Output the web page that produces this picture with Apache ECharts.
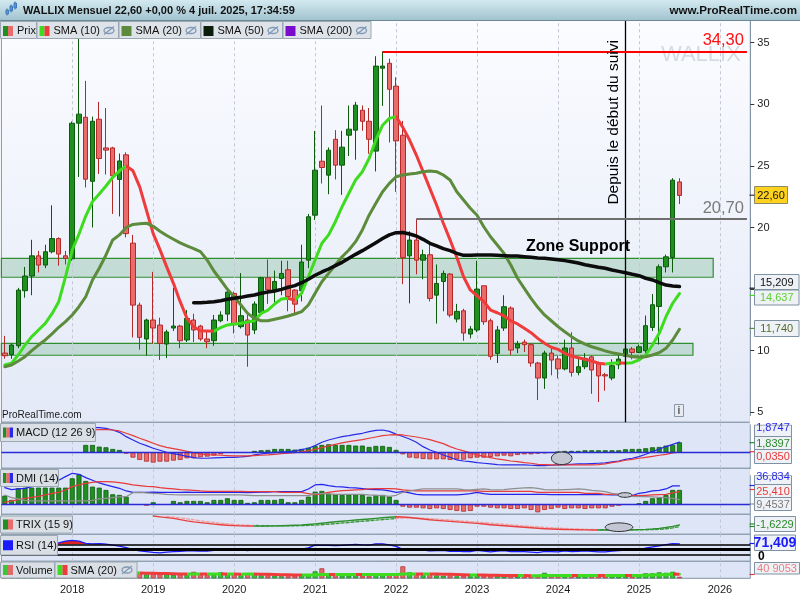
<!DOCTYPE html>
<html>
<head>
<meta charset="utf-8">
<script src="https://cdn.jsdelivr.net/npm/echarts@6/dist/echarts.min.js"></script>
<style>
html,body{margin:0;padding:0;background:#ffffff;}
#chart{width:800px;height:600px;}
</style>
</head>
<body>
<div id="chart"></div>
<script>
// ---- Monthly candles, Mar 2017 .. Jul 2025 ----
const OPEN = [9.81,9.68,10.4,14.87,16.06,17.7,16.95,18.03,19.1,17.7,
  17.46,28.47,28.95,23.75,28.79,26.46,26.46,23.9,25.9,18.73,
  13.7,10.95,12.49,12.08,10.54,11.84,12.0,10.87,12.49,12.0,
  10.95,10.81,12.43,12.97,14.65,11.95,12.49,11.68,13.1,15.92,
  14.95,15.86,16.57,14.92,14.87,17.35,21.0,25.38,24.25,27.16,
  25.06,27.49,27.9,29.52,28.62,26.2,32.93,33.33,31.47,27.49,
  17.7,18.98,17.35,17.79,14.51,15.62,16.22,12.57,13.24,11.35,
  11.68,15.27,12.43,9.78,11.84,13.46,10.22,10.7,10.49,9.0,
  7.78,9.81,9.33,8.52,10.22,8.24,8.7,9.5,8.97,8.05,
  7.78,8.86,9.54,10.14,9.86,10.0,11.89,13.59,16.81,17.57,
  23.7];
const CLOSE = [9.59,10.46,14.92,16.06,17.7,16.95,18.03,19.1,17.84,17.49,
  28.46,29.2,23.92,28.62,25.6,26.28,24.2,25.4,19.5,13.7,
  11.08,12.49,11.84,10.59,11.52,12.0,10.81,12.62,11.68,10.95,
  10.73,12.49,12.89,14.76,12.11,12.84,11.27,13.79,15.92,14.95,
  15.62,16.27,14.4,13.78,17.2,20.87,24.65,24.87,26.27,25.06,
  26.52,27.98,29.93,28.62,27.16,33.1,33.1,31.22,27.03,17.57,
  18.98,17.35,17.79,14.24,15.46,16.27,12.89,13.19,11.43,11.76,
  15.0,12.35,9.54,11.68,13.57,10.05,10.54,10.49,9.0,7.78,
  9.81,9.24,8.52,10.22,8.24,8.7,9.38,8.43,7.95,7.95,
  8.78,9.32,10.14,9.86,10.32,12.03,13.73,16.81,17.62,23.84,
  22.6];
const LOW = [9.35,9.35,10.2,14.3,14.5,16.35,16.7,17.9,16.9,17.0,
  17.3,24.1,23.25,20.0,24.35,24.3,21.1,20.9,19.2,11.08,
  10.08,9.6,10.57,9.25,9.4,11.6,10.2,10.7,10.7,10.8,
  10.2,10.4,12.3,12.4,11.4,11.8,8.7,11.35,12.9,13.8,
  13.9,14.5,13.2,12.9,14.0,16.7,20.6,23.57,22.7,23.9,
  22.65,25.8,25.5,27.85,25.98,24.55,29.87,26.9,22.9,15.4,
  13.84,16.2,15.8,14.0,12.2,13.2,12.7,12.3,10.8,11.0,
  11.5,12.1,9.27,9.0,11.6,9.65,9.8,9.9,8.7,6.0,
  6.9,8.0,7.75,8.4,7.9,8.0,8.5,6.5,5.83,6.75,
  7.6,8.5,9.3,9.3,9.8,9.8,11.6,10.5,16.35,16.35,
  21.9];
const HIGH = [11.2,10.6,15.1,16.8,19.0,18.1,18.6,21.8,19.2,18.1,
  28.6,35.3,31.9,29.0,30.2,29.7,26.55,26.0,26.1,19.4,
  13.9,12.6,16.4,12.68,11.7,15.1,12.1,13.3,13.0,12.1,
  11.6,12.9,13.2,14.9,14.8,16.3,12.9,14.0,16.0,17.4,
  16.5,17.3,17.3,15.0,18.6,21.1,27.84,29.9,26.5,27.9,
  27.84,29.9,30.2,29.9,29.7,33.9,34.3,33.7,32.2,28.65,
  19.7,20.7,18.2,18.65,17.0,16.5,16.3,13.8,13.4,12.0,
  17.3,15.27,12.6,12.0,14.5,13.6,10.8,10.9,10.6,9.1,
  10.0,10.3,9.6,10.9,11.5,9.5,9.8,9.6,9.1,8.2,
  9.3,9.8,10.3,10.3,10.5,12.85,14.6,17.0,17.8,24.0,
  24.0];

// ---- Moving averages ----
const SMA10 = [8.84,8.98,9.65,10.46,11.14,11.68,12.22,13.0,13.98,16.0,
  18.17,19.47,20.93,22.1,22.72,23.37,24.07,24.6,25.0,24.6,
  23.3,21.4,19.5,18.2,16.8,15.47,13.98,12.63,11.95,11.62,
  11.6,11.58,11.87,12.09,12.17,12.22,12.33,12.43,13.03,13.3,
  13.79,14.2,14.25,14.1,14.66,16.0,17.36,18.72,19.4,20.47,
  21.69,22.78,23.86,24.53,25.6,27.1,28.3,28.86,29.0,28.13,
  27.1,25.88,24.53,23.18,21.83,20.34,19.0,17.58,16.0,14.93,
  14.46,13.98,13.3,13.08,12.82,12.43,12.17,11.82,11.46,11.0,
  10.6,10.28,10.11,9.79,9.57,9.43,9.3,9.16,8.98,8.92,
  8.98,9.03,8.98,9.03,9.25,9.65,10.46,11.41,12.76,13.85,
  14.637];
const SMA20 = [8.7,8.84,9.16,9.51,10.0,10.46,10.87,11.36,11.9,12.36,
  12.9,13.57,14.38,15.74,16.69,17.77,18.99,19.4,20.0,20.25,
  20.3,20.35,20.1,19.7,19.35,19.05,18.75,18.5,18.28,18.04,
  17.36,16.47,15.74,14.98,14.38,13.71,13.03,12.63,12.43,12.43,
  12.55,12.68,12.82,12.98,13.17,13.71,14.66,15.6,16.28,16.96,
  17.63,18.17,18.85,19.8,21.0,21.96,22.9,23.58,24.12,24.26,
  24.34,24.4,24.53,24.59,24.53,24.26,23.86,22.9,22.23,21.56,
  21.0,20.06,19.25,18.58,17.9,16.96,15.88,15.06,14.25,13.52,
  12.9,12.43,11.95,11.54,11.14,10.79,10.54,10.32,10.16,9.98,
  9.84,9.73,9.63,9.51,9.46,9.51,9.65,9.84,10.19,10.87,
  11.74];
const SMA50 = [null,null,null,null,null,null,null,null,null,null,
  null,null,null,null,null,null,null,null,null,null,
  null,null,null,null,null,null,null,null,13.9,13.9,
  13.93,13.98,14.06,14.17,14.25,14.33,14.44,14.52,14.66,14.76,
  14.85,14.98,15.15,15.28,15.52,15.8,16.12,16.39,16.63,16.9,
  17.17,17.5,17.82,18.12,18.44,18.77,19.1,19.4,19.58,19.6,
  19.47,19.31,19.04,18.72,18.5,18.28,18.12,17.9,17.74,17.74,
  17.77,17.77,17.77,17.74,17.71,17.69,17.69,17.63,17.58,17.52,
  17.5,17.44,17.39,17.31,17.22,17.12,16.98,16.87,16.77,16.69,
  16.55,16.44,16.33,16.2,16.09,15.88,15.74,15.52,15.33,15.25,
  15.209];

// ---- MACD (12 26 9) ----
const MACD_HIST = [null,null,null,null,null,null,null,null,null,null,
  null,null,1.35,1.35,1.04,0.92,0.61,0.43,-0.25,-0.98,
  -1.41,-1.72,-1.9,-1.72,-1.72,-1.53,-1.41,-1.1,-1.1,-0.92,
  -0.8,-0.61,-0.37,null,null,null,null,0.25,0.37,0.43,
  0.61,0.61,0.61,0.49,0.61,0.86,1.17,1.35,1.47,1.35,
  1.35,1.35,1.23,1.23,0.98,1.17,1.17,0.98,0.43,-0.37,
  -0.98,-1.1,-1.23,-1.29,-1.29,-1.29,-1.41,-1.29,-1.35,-1.1,
  -0.98,-0.98,-0.86,-0.74,-0.61,-0.74,-0.49,-0.37,-0.37,-0.25,
  -0.18,-0.1,0.1,0.25,0.25,0.25,0.37,0.37,0.37,0.37,
  0.37,0.37,0.55,0.61,0.61,0.74,0.92,0.98,1.23,1.35,
  1.8397];
const MACD_LINE = [2.2,2.4,2.6,2.8,3.0,3.2,3.4,3.5,3.6,3.7,
  4.0,4.4,4.55,4.54,4.54,4.42,4.11,3.68,2.88,2.27,
  1.66,1.23,0.74,0.37,0.0,-0.25,-0.49,-0.74,-0.98,-1.1,
  -1.1,-1.04,-0.98,-0.92,-0.92,-0.86,-0.74,-0.49,-0.31,-0.18,
  -0.06,0.06,0.12,0.25,0.49,0.74,1.23,1.84,2.27,2.58,
  2.88,3.07,3.31,3.5,3.8,4.05,4.11,3.85,3.35,2.9,
  2.45,1.84,1.04,0.43,0.0,-0.49,-0.92,-1.41,-1.6,-1.72,
  -1.9,-2.02,-2.15,-2.27,-2.33,-2.33,-2.33,-2.33,-2.39,-2.45,
  -2.45,-2.39,-2.33,-2.27,-2.21,-2.15,-2.15,-2.09,-2.02,-1.96,
  -1.78,-1.6,-1.29,-1.1,-0.8,-0.37,0.12,0.61,1.04,1.47,
  1.8747];
const MACD_SIGNAL = [2.0,2.1,2.3,2.5,2.7,2.9,3.1,3.3,3.5,3.7,
  3.9,4.0,4.1,4.11,4.17,4.17,4.11,3.93,3.5,3.07,
  2.58,2.15,1.66,1.23,0.92,0.67,0.43,0.18,-0.06,-0.31,
  -0.43,-0.49,-0.55,-0.61,-0.67,-0.67,-0.67,-0.61,-0.55,-0.49,
  -0.37,-0.25,-0.18,-0.06,0.06,0.25,0.55,0.86,1.17,1.47,
  1.72,1.96,2.15,2.33,2.58,2.82,3.07,3.19,3.25,3.19,
  3.0,2.82,2.58,2.33,1.96,1.6,1.04,0.61,0.25,-0.12,
  -0.49,-0.74,-0.98,-1.23,-1.41,-1.6,-1.72,-1.9,-2.02,-2.21,
  -2.27,-2.33,-2.33,-2.33,-2.33,-2.33,-2.33,-2.33,-2.27,-2.15,
  -1.9,-1.72,-1.47,-1.29,-1.1,-0.92,-0.74,-0.55,-0.37,-0.12,
  0.035];

// ---- DMI (14) ----
const DMI_HIST = [17.3,8.7,32,33.3,33.3,33.3,33.3,33.3,33.3,33.3,
  52,60,46.7,35.3,33.3,28.7,20,18.7,15.3,null,
  null,-2.7,4,null,null,6.7,4,6.7,6.7,6.7,
  4,8.7,8.7,12,8.7,8.7,2.7,4,8.7,8.7,
  8.7,10.7,4,4,8.7,15.3,25.3,26.7,21.3,20,
  18.7,20,20,18.7,15.3,18.7,18.7,15.3,8.7,-4.7,
  -6.7,-6.7,-8,-9.3,-8,-9.3,-11.3,-13.3,-14.7,-13.3,
  -4.7,-4.7,-6.7,-8,-8,-9.3,-9.3,-8,-11.3,-16,
  -11.3,-9.3,-6.7,-9.3,-8,-8,-9.3,-8,-8,-8,
  -4.7,-2.7,null,null,2,6.7,12,13.3,18.7,28.7,
  28.7];
const DI_PLUS = [33.3,29.3,30.7,32,35.3,37.3,40,42.7,48,55.3,
  62,60,53.3,48,42.7,38.7,35.3,32,26.7,24,
  24,24,24.5,24,24,24,24,24.5,24,24,
  24,24.5,24,24.5,24,24,23.5,24,24.5,24.5,
  25.3,25.3,25.3,25.3,25.3,30.7,38.7,40,37.3,35.3,
  34.7,33.3,32.7,31.3,30,29.3,28.7,26.7,24,25.3,
  22.7,20,18.7,18.7,18.7,18.7,18.7,18.7,20,21.3,
  24,21.3,20,20,20,20,20,20,20,20,
  20,19.5,19.5,19.5,19.5,19.5,19.5,19.5,19.5,19.3,
  18.7,18.7,18,17.3,22,24,26.7,28,30.7,36.9,
  36.834];
const DI_MINUS = [4,6.7,8.7,12,14,16,18.7,22,24,28.7,
  35.3,38.7,42,44,45.3,45.3,44.7,43.3,41.3,38.7,
  37.3,36,35.3,33.3,32,30.7,29.3,28.7,28,26.7,
  26,26,26,26,26,26,25.3,25.3,25.3,25.3,
  25.3,24,24,24,24,21.3,18.7,21.3,24,26,
  27.3,28,28.7,29.3,30.7,31.3,31.3,31.3,30.7,28.7,
  28,26.7,26.7,26.7,26.7,26.7,26.7,26.7,26.7,26.7,
  26.7,26,26,26,26,26,26,26,26,24,
  24,24,24,24,24,24,22,22,22,20,
  20,20,20,18,17.3,18,18.7,19.3,20,22.7,
  25.41];
const ADX = [18.7,13.3,10.7,8,6.7,6.7,6.7,6.7,6.7,6.7,
  6.7,6.7,6.7,8,10.7,12,13.3,14.7,15.3,23.3,
  24,22.7,22,21.3,20,19.3,19,19,19,18.7,
  18.7,18.7,18.7,18.7,18.7,18.7,18,17.3,17.3,17.3,
  17.3,17.3,17.3,17.3,17.3,17.3,21.3,21.3,20.7,20,
  20,20,20,20,18.7,18,17.3,16,18,24,
  26.7,28.7,30.7,30.7,30.7,30.7,30.7,30.7,29.3,28.7,
  30,30.7,29.3,28.7,29.3,30.7,32,32.7,33.3,32,
  29.3,28.7,28.7,29.3,30,30.7,30,28,26.7,25.3,
  22,20,18,16,15.3,15.3,14.7,14,13.3,12,
  9.4537];

// ---- TRIX (15 9) ----
const TRIX = [null,null,null,null,null,null,null,null,null,null,
  null,null,null,null,null,null,null,null,null,null,
  null,null,0.18,0.0,-0.15,-0.3,-0.55,-0.8,-1.0,-1.15,
  -1.3,-1.45,-1.58,-1.68,-1.75,-1.8,-1.83,-1.84,-1.84,-1.82,
  -1.8,-1.76,-1.72,-1.68,-1.62,-1.52,-1.4,-1.26,-1.12,-0.98,
  -0.86,-0.74,-0.62,-0.52,-0.42,-0.3,-0.18,-0.06,0.02,-0.02,
  -0.12,-0.26,-0.42,-0.58,-0.7,-0.8,-0.9,-1.0,-1.1,-1.2,
  -1.3,-1.42,-1.56,-1.68,-1.78,-1.88,-1.98,-2.08,-2.18,-2.28,
  -2.36,-2.42,-2.47,-2.51,-2.54,-2.57,-2.6,-2.62,-2.63,-2.63,
  -2.62,-2.61,-2.6,-2.58,-2.55,-2.5,-2.42,-2.3,-2.12,-1.9,
  -1.6229];
const TRIX_SIGNAL = [null,null,null,null,null,null,null,null,null,null,
  null,null,null,null,null,null,null,null,null,null,
  null,null,null,null,0.1,-0.05,-0.2,-0.38,-0.58,-0.78,
  -0.96,-1.12,-1.27,-1.4,-1.51,-1.6,-1.67,-1.72,-1.76,-1.79,
  -1.8,-1.8,-1.79,-1.77,-1.74,-1.7,-1.64,-1.56,-1.46,-1.35,
  -1.23,-1.11,-0.99,-0.87,-0.76,-0.65,-0.54,-0.43,-0.32,-0.24,
  -0.2,-0.21,-0.26,-0.34,-0.44,-0.54,-0.64,-0.74,-0.84,-0.94,
  -1.04,-1.14,-1.25,-1.37,-1.48,-1.59,-1.7,-1.8,-1.9,-2.0,
  -2.09,-2.17,-2.24,-2.31,-2.37,-2.42,-2.47,-2.51,-2.54,-2.57,
  -2.59,-2.6,-2.6,-2.6,-2.59,-2.57,-2.54,-2.49,-2.38,-2.2,
  -1.95];

// ---- RSI (14) ----
const RSI = [55,58,68,71,74,70,72,75,76,83,
  86,83,74,72,73,71,67,63,57,49,
  44,41,38,36,39,41,42,44,44,43,
  43,46,47,50,47,49,45,50,50,49,
  51,50,49,50,51,56,67,66,66,65,
  66,68,70,68,67,72,72,68,62,50,
  48,48,47,44,45,46,42,43,41,41,
  46,43,40,43,45,41,42,41,39,37,
  42,41,40,44,41,42,44,42,40,40,
  43,45,47,47,49,55,60,64,69,73,
  71.409];

// ---- Volume and its SMA (20) ----
const VOLUME = [300000,300000,500000,400000,400000,300000,300000,300000,300000,300000,
  800000,600000,500000,400000,400000,300000,300000,300000,400000,600000,
  500000,400000,450000,400000,400000,350000,400000,400000,650000,400000,
  350000,350000,600000,400000,400000,300000,500000,400000,300000,300000,
  250000,200000,200000,250000,300000,400000,700000,1000000,400000,300000,
  300000,250000,300000,250000,250000,500000,300000,300000,350000,1200000,
  600000,400000,300000,400000,300000,250000,300000,200000,250000,200000,
  350000,250000,300000,250000,250000,300000,200000,200000,250000,300000,
  550000,400000,300000,250000,300000,200000,250000,250000,300000,200000,
  250000,200000,200000,200000,400000,500000,500000,600000,550000,650000,
  150000];
const VOLUME_SMA = [450000,450000,460000,470000,480000,490000,500000,500000,510000,520000,
  530000,540000,540000,540000,535000,530000,525000,520000,520000,520000,
  520000,510000,500000,490000,470000,450000,430000,420000,430000,430000,
  420000,420000,430000,420000,420000,410000,420000,420000,410000,400000,
  380000,360000,350000,340000,330000,330000,340000,380000,380000,370000,
  370000,370000,380000,370000,370000,380000,380000,380000,380000,420000,
  440000,440000,430000,430000,420000,410000,400000,380000,350000,330000,
  330000,320000,310000,300000,290000,280000,270000,270000,260000,260000,
  280000,290000,290000,290000,290000,280000,280000,280000,290000,280000,
  280000,280000,280000,270000,290000,310000,330000,360000,380000,420000,
  409053];

const YEAR_STARTS = ['2018-01','2019-01','2020-01','2021-01','2022-01','2023-01','2024-01','2025-01','2026-01'];
const PRICE_TICKS = [5,10,15,20,25,30,35];

// Month categories Mar 2017 .. May 2026 (the axis runs a few months past the last bar)
const MONTHS = [];
for (let i = 0; i < 111; i++) {
  const m = 2 + i;
  MONTHS.push((2017 + Math.floor(m / 12)) + '-' + String(m % 12 + 1).padStart(2, '0'));
}

const FONT = '"Liberation Sans", Arial, sans-serif';
const UP = '#1f8f1f', UP_EDGE = '#0c5a0c', DN = '#e96b6b', DN_EDGE = '#b42828';

const chart = echarts.init(document.getElementById('chart'), null, {width: 800, height: 600});

// Panel layout: price, MACD, DMI, TRIX, RSI, volume
const PANELS = [
  {top: 20, height: 402.3, min: 4.188, max: 36.842},
  {top: 422.3, height: 46, min: -2.95, max: 5.525},
  {top: 468.3, height: 46, min: -20, max: 72},
  {top: 514.3, height: 20, min: -3.48, max: 0.52},
  {top: 534.3, height: 27, min: 2, max: 110},
  {top: 561.3, height: 17, min: 0, max: 1700000}
];
const mainBg = new echarts.graphic.LinearGradient(0, 0, 0, 1, [
  {offset: 0, color: '#fbfcff'}, {offset: 1, color: '#e3e9f7'}]);

// colour each segment by its direction (rising / falling)
function slopePieces(arr, up, down) {
  const pieces = [];
  for (let i = 0; i < arr.length - 1; i++) {
    if (arr[i] == null || arr[i + 1] == null) continue;
    const c = arr[i + 1] >= arr[i] ? up : down;
    const last = pieces[pieces.length - 1];
    if (last && last.color === c && last.lt === i) last.lt = i + 1;
    else pieces.push({gte: i, lt: i + 1, color: c});
  }
  const last = pieces[pieces.length - 1];
  last.lte = last.lt; delete last.lt;
  return pieces;
}

const yearMarks = (k) => ({
  type: 'line', xAxisIndex: k, yAxisIndex: k, data: [], z: 1, silent: true,
  markLine: {z: 1, symbol: ['none', 'none'], silent: true, animation: false, label: {show: false},
    lineStyle: {color: '#c1c7d3', type: [3, 3], width: 1},
    data: YEAR_STARTS.map(m => ({xAxis: m}))}
});
const lineSeries = (k, data, color, width, extra) => Object.assign({
  type: 'line', xAxisIndex: k, yAxisIndex: k, data: data, showSymbol: false, symbol: 'none',
  connectNulls: false, silent: true, z: 3,
  lineStyle: {color: color, width: width, cap: 'round', join: 'round'}, itemStyle: {color: color}
}, extra || {});
// line coloured by a visualMap (no fixed colour)
const slopeSeries = (k, data, width, dash) => ({
  type: 'line', xAxisIndex: k, yAxisIndex: k, data: data, showSymbol: false, symbol: 'none',
  connectNulls: false, silent: true, z: 3,
  lineStyle: {width: width, cap: 'round', join: 'round', type: dash || 'solid'}
});
const signedBars = (k, data, extra) => Object.assign({
  type: 'bar', xAxisIndex: k, yAxisIndex: k, barWidth: 5, silent: true, z: 2,
  data: data.map(v => v == null ? null : {value: v, itemStyle: v >= 0
    ? {color: UP, borderColor: UP_EDGE, borderWidth: 0.8}
    : {color: DN, borderColor: DN_EDGE, borderWidth: 0.8}})
}, extra || {});

const series = [];
const add = s => { series.push(s); return series.length - 1; };

// dashed yearly gridlines in every panel
for (let k = 0; k < 6; k++) add(yearMarks(k));

// price panel
add({
  type: 'candlestick', name: 'Prix', xAxisIndex: 0, yAxisIndex: 0, barWidth: 5, clip: false, z: 2, silent: true,
  data: OPEN.map((o, i) => [o, CLOSE[i], LOW[i], HIGH[i]]),
  itemStyle: {color: UP, color0: DN, borderColor: UP_EDGE, borderColor0: DN_EDGE, borderWidth: 1},
  markArea: {z: 1, silent: true, animation: false,
    itemStyle: {color: 'rgba(70,160,100,0.24)', borderColor: '#2f8f2f', borderWidth: 1.2},
    data: [
      [{yAxis: 17.5}, {xAxis: '2025-12', yAxis: 15.96}],
      [{yAxis: 10.6}, {xAxis: '2025-09', yAxis: 9.63}]
    ]},
  markLine: {symbol: ['none', 'none'], silent: true, animation: false,
    data: [
      {xAxis: '2024-11', lineStyle: {color: '#000', type: 'solid', width: 1.3},
        label: {show: true, position: 'insideEndTop', formatter: 'Depuis le début du suivi',
          color: '#000', fontSize: 15.5, fontFamily: FONT, distance: [20, 4]}},
      [{coord: ['2021-11', 34.3], lineStyle: {color: '#ff0000', type: 'solid', width: 2},
        label: {show: true, position: 'insideEndTop', formatter: '34,30', color: '#ff1010',
          fontSize: 16.5, fontFamily: FONT, distance: [3, 2]}},
       {coord: ['2026-05', 34.3]}],
      [{coord: ['2022-04', 20.7], lineStyle: {color: '#6e6e6e', type: 'solid', width: 2},
        label: {show: true, position: 'insideEndTop', formatter: '20,70', color: '#7a7a7a',
          fontSize: 16.5, fontFamily: FONT, distance: [3, 2]}},
       {coord: ['2026-05', 20.7]}]
    ]}
});
const iSma10 = add(slopeSeries(0, SMA10, 3));
add(lineSeries(0, SMA20, '#5b8b3b', 3));
add(lineSeries(0, SMA50, '#0c0c0c', 3.5));

// MACD panel
add(signedBars(1, MACD_HIST, {markLine: {symbol: ['none', 'none'], silent: true, animation: false,
  label: {show: false}, lineStyle: {color: '#2b2bd6', type: 'solid', width: 1.4}, data: [{yAxis: 0}]}}));
add(lineSeries(1, MACD_LINE, '#2a2ae6', 1.2));
add(lineSeries(1, MACD_SIGNAL, '#e83a3a', 1.2));

// DMI panel
add(signedBars(2, DMI_HIST, {markLine: {symbol: ['none', 'none'], silent: true, animation: false,
  label: {show: false}, lineStyle: {color: '#2b2bd6', type: 'solid', width: 1.4}, data: [{yAxis: 0}]}}));
add(lineSeries(2, DI_PLUS, '#2424ee', 1.2));
add(lineSeries(2, DI_MINUS, '#e83a3a', 1.2));
add(lineSeries(2, ADX, '#8f8f8f', 1.2));

// TRIX panel
const iTrixSig = add(slopeSeries(3, TRIX_SIGNAL, 1.4, [3, 2]));
const iTrix = add(slopeSeries(3, TRIX, 1.4));

// RSI panel (overbought zone filled above 70)
add(lineSeries(4, RSI.map(v => v == null ? null : Math.max(v, 70)), '#e02020', 0, {
  lineStyle: {width: 0, opacity: 0}, areaStyle: {origin: 70, color: '#e02020', opacity: 1}}));
add(lineSeries(4, RSI, '#1a1aff', 1.3, {markLine: {symbol: ['none', 'none'], silent: true, animation: false,
  label: {show: false}, data: [
    {yAxis: 70, lineStyle: {color: '#000', type: 'solid', width: 1.5}},
    {yAxis: 50, lineStyle: {color: '#000', type: 'solid', width: 3}},
    {yAxis: 30, lineStyle: {color: '#000', type: 'solid', width: 1.5}}]}}));

// Volume panel
add({type: 'bar', xAxisIndex: 5, yAxisIndex: 5, barWidth: 5, silent: true, z: 2,
  data: VOLUME.map((v, i) => ({value: v, itemStyle: CLOSE[i] >= OPEN[i]
    ? {color: '#39c639', borderColor: '#1d861d', borderWidth: 0.8}
    : {color: '#e26a6a', borderColor: '#b53a3a', borderWidth: 0.8}}))});
const iVolSma = add(slopeSeries(5, VOLUME_SMA, 3));

const xAxes = PANELS.map((p, k) => ({
  type: 'category', gridIndex: k, data: MONTHS, boundaryGap: true,
  axisLine: {show: false}, axisTick: {show: false}, splitLine: {show: false},
  axisLabel: k === 5 ? {show: true, interval: (i, v) => v.endsWith('-01'),
    formatter: v => v.slice(0, 4), fontSize: 11, color: '#1b1b1b', margin: 6, fontFamily: FONT}
    : {show: false}
}));
const yAxes = PANELS.map((p, k) => k === 0 ? {
  type: 'value', gridIndex: 0, position: 'right', min: p.min, max: p.max,
  axisLine: {show: true, lineStyle: {color: '#8395a5'}},
  axisTick: {show: true, length: 4, customValues: PRICE_TICKS, lineStyle: {color: '#333'}},
  axisLabel: {customValues: PRICE_TICKS, fontSize: 11, color: '#1b1b1b', margin: 7, fontFamily: FONT},
  splitLine: {show: false}
} : {type: 'value', gridIndex: k, min: p.min, max: p.max, show: false, splitLine: {show: false}});

// ---- overlay graphics: header, legends, value tags ----
const G = [];
const txt = (x, y, text, o) => G.push(Object.assign({type: 'text', z: 120, silent: true,
  style: Object.assign({x: x, y: y, text: text, fill: '#111', font: '11px ' + FONT, verticalAlign: 'middle'}, o || {})}));
const rect = (x, y, w, h, fill, stroke, z) => G.push({type: 'rect', z: z || 110, silent: true,
  shape: {x: x, y: y, width: w, height: h}, style: {fill: fill, stroke: stroke || null, lineWidth: 1}});
const seg = (x1, y1, x2, y2, color, w, z) => G.push({type: 'line', z: z || 115, silent: true,
  shape: {x1: x1, y1: y1, x2: x2, y2: y2}, style: {stroke: color, lineWidth: w || 1}});
const eyeOff = (cx, cy) => {
  G.push({type: 'ellipse', z: 118, silent: true, shape: {cx: cx, cy: cy, rx: 5, ry: 3},
    style: {fill: null, stroke: '#7f98b6', lineWidth: 1.3}});
  seg(cx - 5, cy + 4, cx + 5, cy - 4, '#7f98b6', 1.3, 119);
};
const swatch = (x, y, colors) => {
  const w = 10 / colors.length;
  colors.forEach((c, i) => rect(x + i * w, y, w, 10, c, null, 116));
};

// header bar
G.push({type: 'rect', z: 110, silent: true, shape: {x: 0, y: 0, width: 800, height: 20},
  style: {fill: new echarts.graphic.LinearGradient(0, 0, 0, 1, [
    {offset: 0, color: '#d4e9f0'}, {offset: 1, color: '#a1c4d0'}])}});
seg(0, 20.5, 800, 20.5, '#6e8794', 1, 111);
// candle glyph
[[6, 10, 4], [10, 6, 5], [14, 3, 5]].forEach(([x, y, h]) => {
  seg(x + 1, y - 1.5, x + 1, y + h + 1.5, '#3f78bb', 1, 116);
  rect(x, y, 2.5, h, '#5b93d0', '#3f78bb', 117);
});
txt(23, 11, 'WALLIX Mensuel 22,60 +0,00 % 4 juil. 2025, 17:34:59', {font: 'bold 11px ' + FONT});
txt(797, 11, 'www.ProRealTime.com', {font: 'bold 11.6px ' + FONT, align: 'right'});

// price legend row
const legendBoxes = [
  {x: 0, w: 36, label: 'Prix', colors: [UP, DN], eye: false},
  {x: 36.5, w: 81.5, label: 'SMA (10)', colors: ['#3ddc1f', '#ef3b3b'], eye: true},
  {x: 118.5, w: 81.5, label: 'SMA (20)', colors: ['#5b8b3b'], eye: true},
  {x: 200.5, w: 81.5, label: 'SMA (50)', colors: ['#0a1d0a'], eye: true},
  {x: 282.5, w: 88, label: 'SMA (200)', colors: ['#7a0ccc'], eye: true}
];
legendBoxes.forEach(b => {
  rect(b.x + 0.5, 21.5, b.w, 17, '#dde3e8', '#9ba8b3');
  swatch(b.x + 3, 26, b.colors);
  txt(b.x + 17, 31, b.label, {font: '11px ' + FONT});
  if (b.eye) eyeOff(b.x + b.w - 9, 30.5);
});

// indicator legend boxes
const panelTag = (x, y, w, h, label, colors) => {
  rect(x + 0.5, y, w, h, '#d9dfe5', '#9ba8b3');
  swatch(x + 3, y + h / 2 - 5, colors);
  txt(x + 16, y + h / 2 + 0.5, label, {font: '11px ' + FONT});
};
panelTag(0, 423.5, 95, 18, 'MACD (12 26 9)', [UP, DN, '#2a2ae6']);
panelTag(0, 469.5, 58, 17, 'DMI (14)', [UP, DN, '#2a2ae6']);
panelTag(0, 516, 72, 17, 'TRIX (15 9)', [UP, DN]);
panelTag(0, 535.5, 57, 19.5, 'RSI (14)', ['#1a1aff']);
panelTag(0, 562, 54, 16, 'Volume', ['#39c639', '#e26a6a']);
panelTag(54.5, 562, 82, 16, 'SMA (20)', ['#3ddc1f', '#ef3b3b']);
eyeOff(127, 570);

// annotation texts
G.push({type: 'text', z: 1, silent: true, style: {x: 661, y: 55, text: 'WALLIX', fill: '#d5dae3',
  font: '22px ' + FONT, verticalAlign: 'middle'}});
txt(526, 247, 'Zone Support', {font: 'bold 16px ' + FONT, fill: '#000'});
txt(2, 415.5, 'ProRealTime.com', {font: '10px ' + FONT, fill: '#1b1b1b'});
rect(674.5, 404.5, 9, 12, '#e8ecf2', '#8898a8');
txt(679, 411, 'i', {font: 'bold 10px ' + FONT, fill: '#555', align: 'center'});

// ellipses marking crossings
const oval = (cx, cy, rx, ry) => G.push({type: 'ellipse', z: 112, silent: true,
  shape: {cx: cx, cy: cy, rx: rx, ry: ry}, style: {fill: '#c3c7d3', stroke: '#303030', lineWidth: 1}});
oval(561.7, 458.3, 10.3, 6.3);
oval(625, 495, 7, 2.3);
oval(619, 527.2, 13.8, 4.3);

// right-hand value tags
const tag = (y1, h, w, text, color, o) => {
  o = o || {};
  rect(754.5, y1, w, h, o.fill || '#eef1f5', o.stroke || '#7f92a3', 113);
  txt(754.5 + w / 2, y1 + h / 2 + 0.5, text, Object.assign({fill: color, align: 'center',
    font: (o.bold ? 'bold ' : '') + (o.size || 11) + 'px ' + FONT}, o.text || {}));
};
const tick = (y, color) => seg(749.5, y, 754.5, y, color, 1.2, 114);

tick(195.2, '#333'); tag(186.5, 17, 33, '22,60', '#111', {fill: '#ffd21e', stroke: '#8a8a6a'});
tick(288.2, '#111'); tag(274.5, 15, 44.5, '15,209', '#111');
tick(295.4, '#3ddc1f'); tag(290, 15, 44.5, '14,637', '#5fd02f');
tick(328.4, '#5b8b3b'); tag(320.5, 16, 44.5, '11,740', '#556b2f');

tag(425, 13, 37, '1,8747', '#2a2ae6', {text: {y: 428}});
rect(749.8, 416, 50, 8.6, '#ffffff', null, 114);
tick(442.7, UP); tag(436.5, 13, 37, '1,8397', '#2a8a2a');
tick(451.7, '#e83a3a'); tag(449.5, 14, 37, '0,0350', '#e83a3a');

tag(475.5, 9, 37, '36,834', '#2a2ae6', {text: {y: 477}});
rect(749.8, 469, 50, 6.2, '#ffffff', null, 114);
tick(485.5, '#2424ee'); tick(489.5, '#e83a3a');
tag(484.5, 13, 37, '25,410', '#e83a3a');
tick(504, '#8f8f8f'); tag(497.5, 13, 37, '9,4537', '#7a7a7a');

tick(524, UP); tick(526.5, UP); tag(516.5, 15, 41, '-1,6229', '#2a8a2a');
tick(543.5, '#1a1aff'); tag(535, 15.5, 41, '71,409', '#1a1aff', {bold: true, size: 14});
txt(758, 556.5, '0', {font: 'bold 12px ' + FONT, fill: '#000'});
tick(574.5, '#e83a3a'); tag(562.5, 11.5, 45, '40 9053', '#e88080');

chart.setOption({
  animation: false,
  backgroundColor: '#ffffff',
  grid: PANELS.map((p, k) => ({left: 1.4, right: 49.7, top: p.top, height: p.height, show: true,
    backgroundColor: k === 0 ? mainBg : '#dde5f6', borderColor: '#8395a5', borderWidth: 1,
    containLabel: false, outerBoundsMode: 'none'})),
  xAxis: xAxes,
  yAxis: yAxes,
  visualMap: [
    {type: 'piecewise', show: false, dimension: 0, seriesIndex: iSma10,
      pieces: slopePieces(SMA10, '#3ddc1f', '#ef3b3b'), outOfRange: {color: '#3ddc1f'}},
    {type: 'piecewise', show: false, dimension: 0, seriesIndex: iTrix,
      pieces: slopePieces(TRIX, '#2f8f2f', '#e84040'), outOfRange: {color: '#2f8f2f'}},
    {type: 'piecewise', show: false, dimension: 0, seriesIndex: iTrixSig,
      pieces: slopePieces(TRIX, '#3c9a3c', '#f1a3a3'), outOfRange: {color: '#3c9a3c'}},
    {type: 'piecewise', show: false, dimension: 0, seriesIndex: iVolSma,
      pieces: slopePieces(VOLUME_SMA, '#3ddc1f', '#ef3b3b'), outOfRange: {color: '#3ddc1f'}}
  ],
  series: series,
  graphic: G
});
</script>
</body>
</html>
